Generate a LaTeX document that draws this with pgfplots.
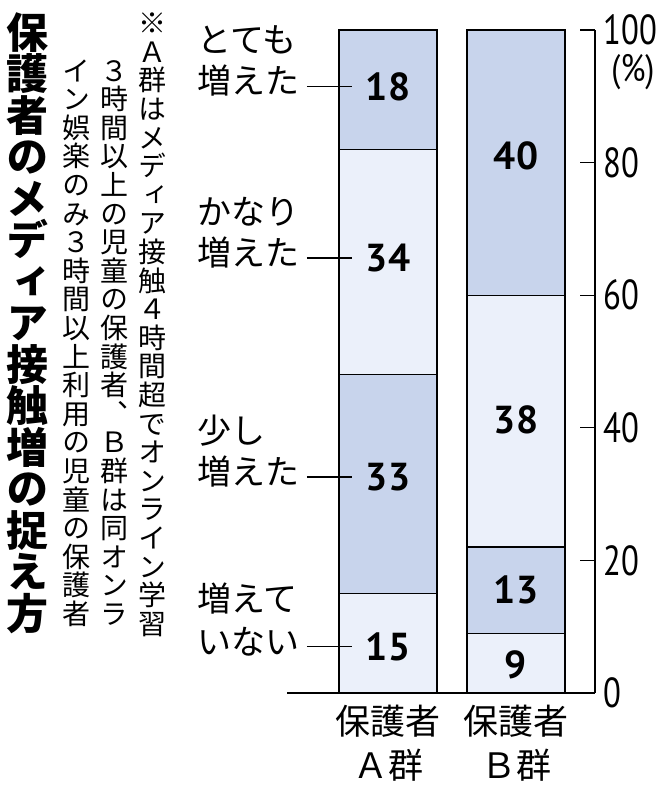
\documentclass[border=0pt]{standalone}
\usepackage{fontspec}
\usepackage{pgfplots}
\pgfplotsset{compat=1.18}
\newfontfamily\cjk{Noto Sans CJK JP}
\newfontfamily\cjkv[RawFeature=+vert]{Noto Sans CJK JP}
\newfontfamily\numf[FakeStretch=0.78]{PT Sans}
\newfontfamily\pctf[FakeStretch=0.85]{PT Sans}
\newfontfamily\numb{PT Sans}
\definecolor{segL}{RGB}{235,240,250}
\definecolor{segM}{RGB}{200,212,236}
\def\vt#1{\ifx\relax#1\else\hbox to 1em{\hss\vrule height .88em depth .12em width 0pt\relax #1\hss}\expandafter\vt\fi}
\tikzset{
  val/.style={font=\numb\bfseries\fontsize{19.5pt}{19.5pt}\selectfont, inner sep=0pt},
  lab/.style={font=\cjk\fontsize{17pt}{17pt}\selectfont, inner sep=0pt, text height=.88em, text depth=.12em, anchor=west},
  xl/.style={font=\cjk\fontsize{17.5pt}{17.5pt}\selectfont, inner sep=0pt, text height=.88em, text depth=.12em},
}
\begin{document}
\begin{tikzpicture}
\useasboundingbox (0,0) rectangle (333pt,400pt);
% title (vertical)
\node[anchor=north, inner sep=0pt] at (13.5pt,394.5pt) {\vbox{\cjkv\bfseries\fontsize{21pt}{20.75pt}\selectfont\lineskiplimit=-\maxdimen \vt 保護者のメディア接触増の捉え方\relax}};
% note (vertical)
\node[anchor=north, inner sep=0pt] at (76.5pt,395.7pt) {\vbox{\cjkv\fontsize{14pt}{14.3pt}\selectfont\lineskiplimit=-\maxdimen \vt ※Ａ群はメディア接触４時間超でオンライン学習\relax}};
\node[anchor=north, inner sep=0pt] at (57pt,372pt) {\vbox{\cjkv\fontsize{14pt}{14.3pt}\selectfont\lineskiplimit=-\maxdimen \vt ３時間以上の児童の保護者、Ｂ群は同オンラ\relax}};
\node[anchor=north, inner sep=0pt] at (38pt,372pt) {\vbox{\cjkv\fontsize{14pt}{14.3pt}\selectfont\lineskiplimit=-\maxdimen \vt イン娯楽のみ３時間以上利用の児童の保護者\relax}};
\begin{axis}[
  at={(143.5pt,53.5pt)}, anchor=south west, scale only axis,
  width=154pt, height=331.5pt,
  xmin=-0.789, xmax=1.617, ymin=0, ymax=100,
  axis x line*=bottom, axis y line*=right,
  axis line style={line width=0.7pt, black},
  xtick=\empty,
  ytick={0,20,40,60,80,100},
  tick align=inside, major tick length=7.5pt,
  tick style={line width=0.7pt, black},
  yticklabel style={font=\numf\fontsize{21pt}{21pt}\selectfont, inner sep=0pt, xshift=4pt},
  /pgf/number format/assume math mode=true,
  ybar stacked, bar width=0.766,
  clip=false,
]
\addplot[fill=segL, draw=black, line width=0.7pt] coordinates {(0,15) (1,9)};
\addplot[fill=segM, draw=black, line width=0.7pt] coordinates {(0,33) (1,13)};
\addplot[fill=segL, draw=black, line width=0.7pt] coordinates {(0,34) (1,38)};
\addplot[fill=segM, draw=black, line width=0.7pt] coordinates {(0,18) (1,40)};
% anchor coordinates for annotations
\coordinate (l1a) at (axis cs:-0.633,91.5); \coordinate (l1b) at (axis cs:-0.281,91.5); \coordinate (t1) at (axis cs:-1.492,91.5);
\coordinate (l2a) at (axis cs:-0.633,65.6); \coordinate (l2b) at (axis cs:-0.281,65.6); \coordinate (t2) at (axis cs:-1.492,65.6);
\coordinate (l3a) at (axis cs:-0.633,32.6); \coordinate (l3b) at (axis cs:-0.281,32.6); \coordinate (t3) at (axis cs:-1.492,32.6);
\coordinate (l4a) at (axis cs:-0.633,7); \coordinate (l4b) at (axis cs:-0.281,7); \coordinate (t4) at (axis cs:-1.492,7);
\coordinate (vA1) at (axis cs:0,91.5);
\coordinate (vA2) at (axis cs:0,65.6);
\coordinate (vA3) at (axis cs:0,32.6);
\coordinate (vA4) at (axis cs:0,7);
\coordinate (vB1) at (axis cs:1,81);
\coordinate (vB2) at (axis cs:1,41.2);
\coordinate (vB3) at (axis cs:1,15.5);
\coordinate (vB4) at (axis cs:1,4.2);
\end{axis}
% leader lines
\draw[line width=0.7pt] (l1a) -- (l1b);
\draw[line width=0.7pt] (l2a) -- (l2b);
\draw[line width=0.7pt] (l3a) -- (l3b);
\draw[line width=0.7pt] (l4a) -- (l4b);
% value labels
\node[val] at (vA1) {18};
\node[val] at (vA2) {34};
\node[val] at (vA3) {33};
\node[val] at (vA4) {15};
\node[val] at (vB1) {40};
\node[val] at (vB2) {38};
\node[val] at (vB3) {13};
\node[val] at (vB4) {9};
% category labels
\node[lab] at (t1) {増えた};
\node[lab, yshift=20.5pt] at (t1) {とても};
\node[lab] at (t2) {増えた};
\node[lab, yshift=20.5pt] at (t2) {かなり};
\node[lab] at (t3) {増えた};
\node[lab, yshift=20.5pt] at (t3) {少し};
\node[lab] at (t4) {いない};
\node[lab, yshift=21.5pt] at (t4) {増えて};
% (%)
\node[font=\pctf\fontsize{19pt}{19pt}\selectfont, inner sep=0pt, anchor=north] at (316.5pt,373pt) {(\%)};
% x category labels
\node[xl] at (194pt,36.5pt) {保護者};
\node[xl] at (194pt,14.5pt) {Ａ群};
\node[xl] at (258.2pt,36.5pt) {保護者};
\node[xl] at (258.2pt,14.5pt) {Ｂ群};
\end{tikzpicture}
\end{document}
